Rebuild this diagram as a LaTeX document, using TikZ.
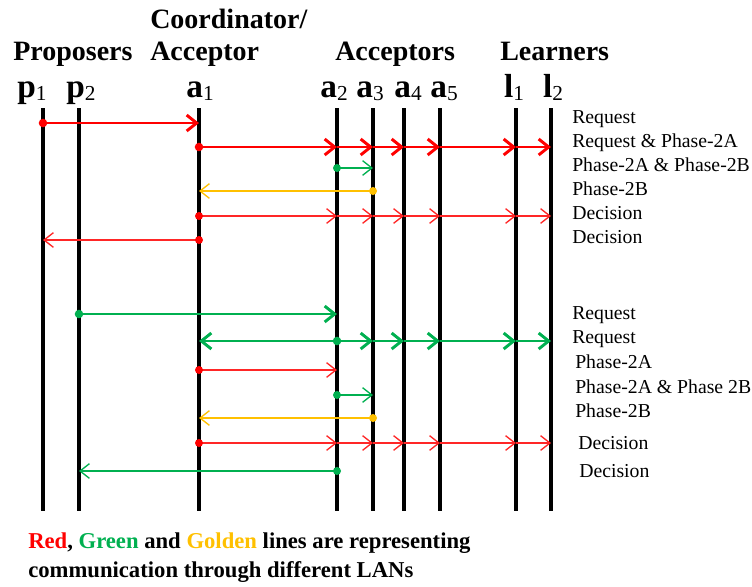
\documentclass[tikz,border=0pt]{standalone}
\usepackage{fontspec}
\setmainfont{Liberation Serif}
\usetikzlibrary{arrows.meta}
\usetikzlibrary{positioning}

\definecolor{lanred}{RGB}{255,0,0}
\definecolor{langreen}{RGB}{0,176,80}
\definecolor{langold}{RGB}{255,192,0}

\newcommand{\procname}[2]{{\bfseries\fontsize{25}{25}\selectfont #1}\raisebox{-2.5pt}{\fontsize{16}{16}\selectfont #2}}

\begin{document}
\begin{tikzpicture}[x=0.75pt,y=-0.75pt,
  lifeline/.style={line width=3.2pt,black},
  thickmsg/.style={line width=2.2pt,-{Straight Barb[length=7.5pt,width=12pt]}},
  thinmsg/.style={line width=1pt,-{Straight Barb[length=7pt,width=11pt]}},
  header/.style={anchor=base west,inner sep=0pt,font=\bfseries\fontsize{21}{25}\selectfont},
  msglbl/.style={anchor=base west,inner sep=0pt,font=\fontsize{14.8}{17}\selectfont},
  legend/.style={anchor=base west,inner sep=0pt,font=\bfseries\fontsize{17}{21}\selectfont},
  proc/.style={anchor=base,inner sep=0pt}]

\useasboundingbox (0,0) rectangle (752,586);

% Lifeline tops
\coordinate (p1) at (43,108);
\coordinate (p2) at (79,108);
\coordinate (a1) at (199,108);
\coordinate (a2) at (337,108);
\coordinate (a3) at (373,108);
\coordinate (a4) at (404,108);
\coordinate (a5) at (440,108);
\coordinate (l1) at (516,108);
\coordinate (l2) at (551,108);
\coordinate (bot) at (0,511);

% Message rows
\coordinate (r1) at (0,123);
\coordinate (r2) at (0,147);
\coordinate (r3) at (0,168);
\coordinate (r4) at (0,191);
\coordinate (r5) at (0,216);
\coordinate (r6) at (0,240);
\coordinate (r7) at (0,314);
\coordinate (r8) at (0,341);
\coordinate (r9) at (0,370);
\coordinate (r10) at (0,395);
\coordinate (r11) at (0,418);
\coordinate (r12) at (0,443);
\coordinate (r13) at (0,471);

% Headers
\node[header] (Hprop) at (13,60) {Proposers};
\node[header] (Hcoord) at (150,28) {Coordinator/};
\node[header] (Hacc) at (150,60) {Acceptor};
\node[header] (Haccs) at (335,60) {Acceptors};
\node[header] (Hlearn) at (500,60) {Learners};

% Process labels
\node[proc] (Lp1) at (32,97) {\procname{p}{1}};
\node[proc] (Lp2) at (81,97) {\procname{p}{2}};
\node[proc] (La1) at (200,97) {\procname{a}{1}};
\node[proc] (La2) at (334,97) {\procname{a}{2}};
\node[proc] (La3) at (370,97) {\procname{a}{3}};
\node[proc] (La4) at (408,97) {\procname{a}{4}};
\node[proc] (La5) at (444,97) {\procname{a}{5}};
\node[proc] (Ll1) at (514,97) {\procname{l}{1}};
\node[proc] (Ll2) at (553,97) {\procname{l}{2}};

% Lifelines
\draw[lifeline] (p1) -- (p1 |- bot);
\draw[lifeline] (p2) -- (p2 |- bot);
\draw[lifeline] (a1) -- (a1 |- bot);
\draw[lifeline] (a2) -- (a2 |- bot);
\draw[lifeline] (a3) -- (a3 |- bot);
\draw[lifeline] (a4) -- (a4 |- bot);
\draw[lifeline] (a5) -- (a5 |- bot);
\draw[lifeline] (l1) -- (l1 |- bot);
\draw[lifeline] (l2) -- (l2 |- bot);

% First round
\draw[thickmsg,lanred] (p1 |- r1) -- (a1 |- r1);
\fill[lanred] (p1 |- r1) circle[radius=3.2pt];

\path[thickmsg,lanred] (a1 |- r2) edge (a2 |- r2) (a2 |- r2) edge (a3 |- r2)
  (a3 |- r2) edge (a4 |- r2) (a4 |- r2) edge (a5 |- r2)
  (a5 |- r2) edge (l1 |- r2) (l1 |- r2) edge (l2 |- r2);
\fill[lanred] (a1 |- r2) circle[radius=3.2pt];

\draw[thinmsg,langreen] (a2 |- r3) -- (a3 |- r3);
\fill[langreen] (a2 |- r3) circle[radius=3pt];

\draw[thinmsg,langold] (a3 |- r4) -- (a1 |- r4);
\fill[langold] (a3 |- r4) circle[radius=3pt];

\path[thinmsg,lanred!85] (a1 |- r5) edge (a2 |- r5) (a2 |- r5) edge (a3 |- r5)
  (a3 |- r5) edge (a4 |- r5) (a4 |- r5) edge (a5 |- r5)
  (a5 |- r5) edge (l1 |- r5) (l1 |- r5) edge (l2 |- r5);
\fill[lanred] (a1 |- r5) circle[radius=3pt];

\draw[thinmsg,lanred!85] (a1 |- r6) -- (p1 |- r6);
\fill[lanred] (a1 |- r6) circle[radius=3pt];

% Second round
\draw[thickmsg,langreen] (p2 |- r7) -- (a2 |- r7);
\fill[langreen] (p2 |- r7) circle[radius=3.2pt];

\path[thickmsg,langreen] (a2 |- r8) edge (a1 |- r8) (a2 |- r8) edge (a3 |- r8)
  (a3 |- r8) edge (a4 |- r8) (a4 |- r8) edge (a5 |- r8)
  (a5 |- r8) edge (l1 |- r8) (l1 |- r8) edge (l2 |- r8);
\fill[langreen] (a2 |- r8) circle[radius=3.2pt];

\draw[thinmsg,lanred!85] (a1 |- r9) -- (a2 |- r9);
\fill[lanred] (a1 |- r9) circle[radius=3pt];

\draw[thinmsg,langreen] (a2 |- r10) -- (a3 |- r10);
\fill[langreen] (a2 |- r10) circle[radius=3pt];

\draw[thinmsg,langold] (a3 |- r11) -- (a1 |- r11);
\fill[langold] (a3 |- r11) circle[radius=3pt];

\path[thinmsg,lanred!85] (a1 |- r12) edge (a2 |- r12) (a2 |- r12) edge (a3 |- r12)
  (a3 |- r12) edge (a4 |- r12) (a4 |- r12) edge (a5 |- r12)
  (a5 |- r12) edge (l1 |- r12) (l1 |- r12) edge (l2 |- r12);
\fill[lanred] (a1 |- r12) circle[radius=3pt];

\draw[thinmsg,langreen] (a2 |- r13) -- (p2 |- r13);
\fill[langreen] (a2 |- r13) circle[radius=3pt];

% Message labels
\node[msglbl] (m1) at (572,123) {Request};
\node[msglbl] (m2) at (572,147) {Request \& Phase-2A};
\node[msglbl] (m3) at (572,171) {Phase-2A \& Phase-2B};
\node[msglbl] (m4) at (572,195) {Phase-2B};
\node[msglbl] (m5) at (572,219) {Decision};
\node[msglbl] (m6) at (572,243) {Decision};
\node[msglbl] (m7) at (572,319) {Request};
\node[msglbl] (m8) at (572,343) {Request};
\node[msglbl] (m9) at (575,368) {Phase-2A};
\node[msglbl] (m10) at (575,393) {Phase-2A \& Phase 2B};
\node[msglbl] (m11) at (575,417) {Phase-2B};
\node[msglbl] (m12) at (578,449) {Decision};
\node[msglbl] (m13) at (579,477) {Decision};

% Legend
\node[legend] (leg1) at (28,548) {\textcolor{lanred}{Red}, \textcolor{langreen}{Green} and \textcolor{langold}{Golden} lines are representing};
\node[legend] (leg2) at (28,577) {communication through different LANs};

\end{tikzpicture}
\end{document}
